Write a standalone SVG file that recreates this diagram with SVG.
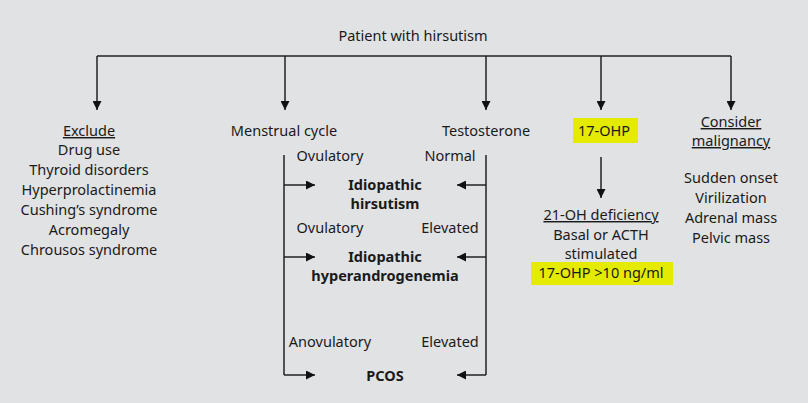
<svg xmlns="http://www.w3.org/2000/svg" width="808" height="403" viewBox="0 0 808 403">
<style>
text{font-family:"Noto Sans","Liberation Sans",sans-serif;font-size:14.5px;fill:#1a1a1a;text-anchor:middle}
.b{font-weight:bold}
.u{text-decoration:underline}
.l{stroke:#222;stroke-width:1.5;fill:none}
.hl{fill:#e4ea00}
</style>
<defs><marker id="a" viewBox="0 0 10 10" refX="10" refY="5" markerWidth="9" markerHeight="9" markerUnits="userSpaceOnUse" orient="auto"><path d="M0,0L10,5L0,10z" fill="#111"/></marker></defs>
<rect width="808" height="403" fill="#e1e2e4"/>
<g id="connectors">
<path class="l" d="M97,56H731"/>
<path class="l" d="M97,56V110" marker-end="url(#a)"/>
<path class="l" d="M285,56V110" marker-end="url(#a)"/>
<path class="l" d="M486,56V110" marker-end="url(#a)"/>
<path class="l" d="M601,56V110" marker-end="url(#a)"/>
<path class="l" d="M731,56V110" marker-end="url(#a)"/>
<path class="l" d="M601,157V198" marker-end="url(#a)"/>
<path class="l" d="M284,155V375"/>
<path class="l" d="M486,155V375"/>
<path class="l" d="M284,185H315" marker-end="url(#a)"/>
<path class="l" d="M284,257H315" marker-end="url(#a)"/>
<path class="l" d="M284,375H315" marker-end="url(#a)"/>
<path class="l" d="M486,185H457" marker-end="url(#a)"/>
<path class="l" d="M486,257H457" marker-end="url(#a)"/>
<path class="l" d="M486,375H457" marker-end="url(#a)"/>
</g>
<g id="root"><text x="413" y="41">Patient with hirsutism</text></g>
<g id="exclude">
<text x="89" y="136" class="u">Exclude</text>
<text x="89" y="155">Drug use</text>
<text x="89" y="175">Thyroid disorders</text>
<text x="89" y="195">Hyperprolactinemia</text>
<text x="89" y="215">Cushing’s syndrome</text>
<text x="89" y="235">Acromegaly</text>
<text x="89" y="255">Chrousos syndrome</text>
</g>
<g id="menstrual"><text x="284" y="136">Menstrual cycle</text></g>
<g id="testosterone"><text x="486" y="136">Testosterone</text></g>
<g id="ohp"><rect class="hl" x="573" y="118" width="65" height="25"/><text x="604" y="136">17-OHP</text></g>
<g id="malignancy">
<text x="731" y="127" class="u">Consider</text>
<text x="731" y="146" class="u">malignancy </text>
<text x="731" y="183">Sudden onset</text>
<text x="731" y="203">Virilization</text>
<text x="731" y="223">Adrenal mass</text>
<text x="731" y="243">Pelvic mass</text>
</g>
<g id="deficiency">
<rect class="hl" x="531" y="262" width="142" height="23"/>
<text x="601" y="220" class="u">21-OH deficiency</text>
<text x="601" y="240">Basal or ACTH</text>
<text x="601" y="259">stimulated</text>
<text x="601" y="278">17-OHP &gt;10 ng/ml</text>
</g>
<g id="labels">
<text x="330" y="161">Ovulatory</text>
<text x="450" y="161">Normal</text>
<text x="330" y="233">Ovulatory</text>
<text x="450" y="233">Elevated</text>
<text x="330" y="347">Anovulatory</text>
<text x="450" y="347">Elevated</text>
</g>
<g id="hirsutism"><text x="385" y="190" class="b">Idiopathic</text><text x="385" y="209" class="b">hirsutism</text></g>
<g id="hyperandrogenemia"><text x="385" y="262" class="b">Idiopathic</text><text x="385" y="281" class="b">hyperandrogenemia</text></g>
<g id="pcos"><text x="385" y="381" class="b">PCOS</text></g>
</svg>
